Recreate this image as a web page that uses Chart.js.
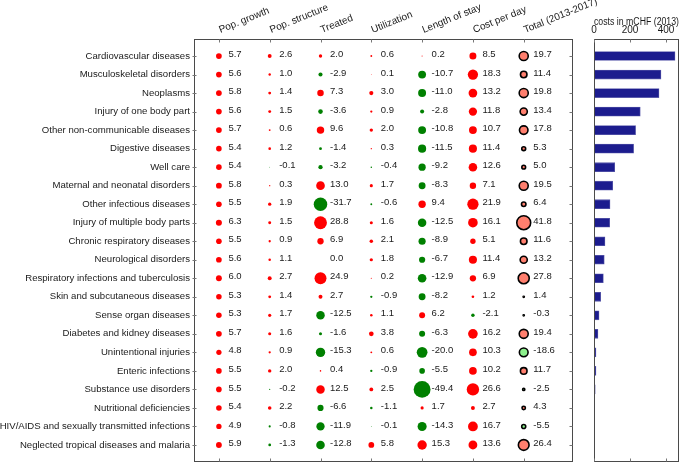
<!DOCTYPE html>
<html>
<head>
<meta charset="utf-8">
<script src="https://cdn.jsdelivr.net/npm/chart.js@4.4.1/dist/chart.umd.min.js"></script>
<style>
  html, body { margin: 0; padding: 0; background: #ffffff; }
  #wrap { position: relative; width: 685px; height: 466px; overflow: hidden; }
  #wrap canvas { position: absolute; top: 0; left: 0; }
</style>
</head>
<body>
<div id="wrap">
  <canvas id="bubbles" width="685" height="466"></canvas>
  <canvas id="bars" width="685" height="466"></canvas>
</div>
<script>
const categories = [
  "Cardiovascular diseases",
  "Musculoskeletal disorders",
  "Neoplasms",
  "Injury of one body part",
  "Other non-communicable diseases",
  "Digestive diseases",
  "Well care",
  "Maternal and neonatal disorders",
  "Other infectious diseases",
  "Injury of multiple body parts",
  "Chronic respiratory diseases",
  "Neurological disorders",
  "Respiratory infections and tuberculosis",
  "Skin and subcutaneous diseases",
  "Sense organ diseases",
  "Diabetes and kidney diseases",
  "Unintentional injuries",
  "Enteric infections",
  "Substance use disorders",
  "Nutritional deficiencies",
  "HIV/AIDS and sexually transmitted infections",
  "Neglected tropical diseases and malaria"
];
const columns = ["Pop. growth", "Pop. structure", "Treated", "Utilization", "Length of stay", "Cost per day", "Total (2013-2017)"];

const popGrowth    = [5.7, 5.6, 5.8, 5.6, 5.7, 5.4, 5.4, 5.8, 5.5, 6.3, 5.5, 5.6, 6.0, 5.3, 5.3, 5.7, 4.8, 5.5, 5.5, 5.4, 4.9, 5.9];
const popStructure = [2.6, 1.0, 1.4, 1.5, 0.6, 1.2, -0.1, 0.3, 1.9, 1.5, 0.9, 1.1, 2.7, 1.4, 1.7, 1.6, 0.9, 2.0, -0.2, 2.2, -0.8, -1.3];
const treated      = [2.0, -2.9, 7.3, -3.6, 9.6, -1.4, -3.2, 13.0, -31.7, 28.8, 6.9, 0.0, 24.9, 2.7, -12.5, -1.6, -15.3, 0.4, 12.5, -6.6, -11.9, -12.8];
const utilization  = [0.6, 0.1, 3.0, 0.9, 2.0, 0.3, -0.4, 1.7, -0.6, 1.6, 2.1, 1.8, 0.2, -0.9, 1.1, 3.8, 0.6, -0.9, 2.5, -1.1, -0.1, 5.8];
const lengthOfStay = [0.2, -10.7, -11.0, -2.8, -10.8, -11.5, -9.2, -8.3, 9.4, -12.5, -8.9, -6.7, -12.9, -8.2, 6.2, -6.3, -20.0, -5.5, -49.4, 1.7, -14.3, 15.3];
const costPerDay   = [8.5, 18.3, 13.2, 11.8, 10.7, 11.4, 12.6, 7.1, 21.9, 16.1, 5.1, 11.4, 6.9, 1.2, -2.1, 16.2, 10.3, 10.2, 26.6, 2.7, 16.7, 13.6];
const total        = [19.7, 11.4, 19.8, 13.4, 17.8, 5.3, 5.0, 19.5, 6.4, 41.8, 11.6, 13.2, 27.8, 1.4, -0.3, 19.4, -18.6, 11.7, -2.5, 4.3, -5.5, 26.4];
const costs2013    = [450, 372, 361, 257, 231, 220, 115, 104, 89, 87, 61, 57, 52, 37, 28, 22, 11, 11, 7, 4, 2, 1];
const costTicks    = [0, 200, 400];

const seriesList = [popGrowth, popStructure, treated, utilization, lengthOfStay, costPerDay, total];

Chart.defaults.font.family = "'Liberation Sans', Arial, sans-serif";
Chart.defaults.font.size = 10;
Chart.defaults.color = '#1a1a1a';

const K = 1.2;
const FRAME = '#4a4a4a';
const ROW_MIN = -0.92, ROW_MAX = 21.92;

function noPad(s) { s.paddingTop = 0; s.paddingBottom = 0; s.paddingLeft = 0; s.paddingRight = 0; }

const framePlugin = {
  id: 'frame',
  afterDraw(chart, args, opts) {
    const ctx = chart.ctx;
    const a = chart.chartArea;
    ctx.save();
    ctx.strokeStyle = FRAME;
    ctx.lineWidth = 1;
    const L = Math.round(a.left) + 0.5, R = Math.round(a.right) - 0.5;
    const T = Math.round(a.top) + 0.5, B = Math.round(a.bottom) - 0.5;
    ctx.strokeRect(L, T, R - L, B - T);
    ctx.strokeStyle = '#777';
    const xs = chart.scales.x, ys = chart.scales.y;
    ctx.beginPath();
    if (opts.xTicks) {
      xs.ticks.forEach(t => {
        const px = Math.round(xs.getPixelForValue(t.value)) + 0.5;
        ctx.moveTo(px, T); ctx.lineTo(px, T + 3);
        ctx.moveTo(px, B); ctx.lineTo(px, B - 3);
      });
    }
    if (opts.yTicks) {
      ys.ticks.forEach(t => {
        const py = Math.round(ys.getPixelForValue(t.value)) + 0.5;
        ctx.moveTo(L - 2, py); ctx.lineTo(L + 2, py);
        ctx.moveTo(R, py); ctx.lineTo(R - 3, py);
      });
    }
    ctx.stroke();
    ctx.restore();
  }
};

const valueLabels = {
  id: 'valueLabels',
  afterDatasetsDraw(chart) {
    const ctx = chart.ctx;
    ctx.save();
    ctx.font = "9.5px 'Liberation Sans', Arial, sans-serif";
    ctx.fillStyle = '#1a1a1a';
    ctx.textAlign = 'left';
    ctx.textBaseline = 'middle';
    chart.data.datasets.forEach((ds, di) => {
      const meta = chart.getDatasetMeta(di);
      meta.data.forEach((el, i) => {
        const v = ds.data[i].v;
        ctx.fillText(v.toFixed(1), el.x + 9.5, el.y - 1.5);
      });
    });
    ctx.restore();
  }
};

const bubbleDatasets = seriesList.map((arr, c) => {
  const isTotal = c === seriesList.length - 1;
  return {
    label: columns[c],
    data: arr.map((v, i) => ({ x: c, y: i, v: v })),
    backgroundColor: ctx => {
      const v = ctx.raw ? ctx.raw.v : 0;
      if (isTotal) return v >= 0 ? '#ff7f6e' : '#8cf08c';
      return v >= 0 ? '#ff0000' : '#008000';
    },
    borderColor: isTotal ? '#000000' : 'rgba(0,0,0,0)',
    borderWidth: isTotal ? 1.6 : 0,
    radius: ctx => {
      const v = ctx.raw ? Math.abs(ctx.raw.v) : 0;
      const r = K * Math.sqrt(v);
      if (isTotal) return Math.max(0.6, r - 0.8);
      return r;
    },
    clip: false
  };
});

new Chart(document.getElementById('bubbles'), {
  type: 'bubble',
  data: { datasets: bubbleDatasets },
  plugins: [framePlugin, valueLabels],
  options: {
    responsive: false,
    animation: false,
    events: [],
    layout: { autoPadding: false, padding: { left: 0, right: 112, top: 0, bottom: 4 } },
    plugins: { legend: { display: false }, tooltip: { enabled: false }, frame: { xTicks: true, yTicks: true } },
    scales: {
      x: {
        type: 'linear',
        position: 'top',
        min: -0.49, max: 6.97,
        grid: { display: false, drawTicks: false },
        border: { display: false },
        afterBuildTicks: s => { s.ticks = columns.map((_, i) => ({ value: i })); },
        afterFit: s => { s.height = 39; noPad(s); },
        ticks: {
          autoSkip: false,
          minRotation: 22, maxRotation: 22,
          padding: 3,
          labelOffset: 5,
          font: { size: 10 },
          callback: v => columns[v]
        }
      },
      y: {
        type: 'linear',
        reverse: true,
        min: ROW_MIN, max: ROW_MAX,
        grid: { display: false, drawTicks: false },
        border: { display: false },
        afterBuildTicks: s => { s.ticks = categories.map((_, i) => ({ value: i })); },
        afterFit: s => { s.width = 194; noPad(s); },
        ticks: {
          autoSkip: false,
          padding: 4,
          font: { size: 9.6 },
          callback: v => categories[v]
        }
      }
    }
  }
});

new Chart(document.getElementById('bars'), {
  type: 'bar',
  data: {
    datasets: [{
      label: 'costs in mCHF (2013)',
      data: costs2013.map((v, i) => ({ x: v, y: i })),
      backgroundColor: '#1c1c8e',
      borderColor: '#5a5aaa',
      borderWidth: 0.8,
      barThickness: 9
    }]
  },
  plugins: [framePlugin],
  options: {
    indexAxis: 'y',
    responsive: false,
    animation: false,
    events: [],
    layout: { autoPadding: false, padding: { left: 594, right: 6, top: 0, bottom: 4 } },
    plugins: { legend: { display: false }, tooltip: { enabled: false }, frame: { xTicks: true, yTicks: false } },
    scales: {
      x: {
        type: 'linear',
        position: 'top',
        min: 0, max: 472,
        grid: { display: false, drawTicks: false },
        border: { display: false },
        afterBuildTicks: s => { s.ticks = costTicks.map(v => ({ value: v })); },
        afterFit: s => { s.height = 39; noPad(s); },
        ticks: { padding: 3, font: { size: 10 }, maxRotation: 0 },
        title: { display: true, text: 'costs in mCHF (2013)', font: { size: 10 }, padding: { top: 16, bottom: 0 } }
      },
      y: {
        type: 'linear',
        reverse: true,
        offset: false,
        min: ROW_MIN, max: ROW_MAX,
        display: false,
        afterBuildTicks: s => { s.ticks = categories.map((_, i) => ({ value: i })); }
      }
    }
  }
});
</script>
</body>
</html>
